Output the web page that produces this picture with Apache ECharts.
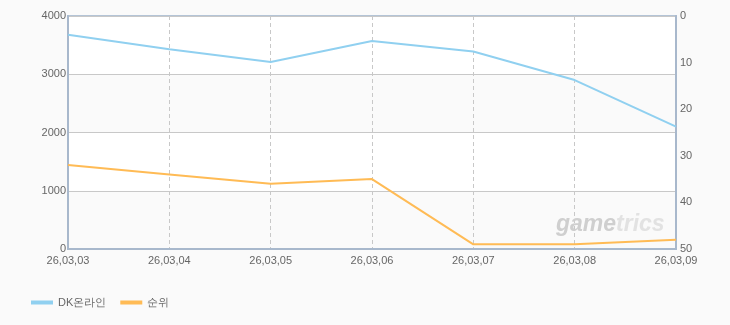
<!DOCTYPE html>
<html>
<head>
<meta charset="utf-8">
<script src="https://cdn.jsdelivr.net/npm/echarts@6/dist/echarts.min.js"></script>
<style>
html,body{margin:0;padding:0;background:#fafafa;}
#c{width:730px;height:325px;}
</style>
</head>
<body>
<div id="c"></div>
<script>
var categories = ['26,03,03','26,03,04','26,03,05','26,03,06','26,03,07','26,03,08','26,03,09'];
var usersValues = [3680, 3430, 3210, 3570, 3390, 2900, 2100];
var rankValues = [32, 34, 36, 35, 49, 49, 48];
var seriesNames = ['DK온라인', '순위'];

var chart = echarts.init(document.getElementById('c'));
var font = 'Liberation Sans, Arial, sans-serif';
chart.setOption({
  backgroundColor: '#fafafa',
  animation: false,
  grid: {left: 68, right: 54, top: 16, bottom: 76, show: true, borderColor: '#b4c4d6', borderWidth: 2, backgroundColor: 'transparent'},
  legend: {
    left: 26, top: 292, itemWidth: 22, itemHeight: 4, itemGap: 14,
    icon: 'rect',
    textStyle: {color: '#666', fontSize: 11, fontFamily: font},
    data: seriesNames
  },
  xAxis: {
    type: 'category', boundaryGap: false, data: categories,
    axisLine: {lineStyle: {color: '#a8b8cc', width: 2}},
    axisTick: {show: false},
    axisLabel: {color: '#666', fontSize: 11, fontFamily: font, margin: 6, showMaxLabel: true, showMinLabel: true, interval: 0},
    splitLine: {show: true, lineStyle: {color: '#c8c8c8', type: [4, 3], width: 1}}
  },
  yAxis: [{
    type: 'value', min: 0, max: 4000, interval: 1000,
    axisLine: {show: true, lineStyle: {color: '#a8b8cc', width: 2}},
    axisTick: {show: false},
    axisLabel: {color: '#666', fontSize: 11, fontFamily: font, margin: 2, formatter: function (v) { return String(v); }},
    splitLine: {lineStyle: {color: '#c8c8c8', width: 1}},
    splitArea: {show: true, areaStyle: {color: ['#fafafa', '#ffffff']}}
  }, {
    type: 'value', min: 0, max: 50, interval: 10, inverse: true,
    axisLine: {show: true, lineStyle: {color: '#a8b8cc', width: 2}},
    axisTick: {show: false},
    axisLabel: {color: '#666', fontSize: 11, fontFamily: font, margin: 4},
    splitLine: {show: false}
  }],
  graphic: [{
    type: 'text', left: 556, top: 213, z: 1,
    style: {
      text: '{a|game}{b|trics}',
      rich: {
        a: {fontSize: 23, fontStyle: 'italic', fontWeight: 'bold', fill: '#cfcfcf', fontFamily: font},
        b: {fontSize: 23, fontStyle: 'italic', fontWeight: 'bold', fill: '#e2e2e2', fontFamily: font}
      }
    }
  }],
  series: [{
    name: seriesNames[0], type: 'line', data: usersValues, yAxisIndex: 0,
    symbol: 'none', lineStyle: {color: '#90d0f0', width: 2}, itemStyle: {color: '#90d0f0'}, z: 3
  }, {
    name: seriesNames[1], type: 'line', data: rankValues, yAxisIndex: 1,
    symbol: 'none', lineStyle: {color: '#ffbb55', width: 2}, itemStyle: {color: '#ffbb55'}, z: 3
  }]
});
</script>
</body>
</html>
